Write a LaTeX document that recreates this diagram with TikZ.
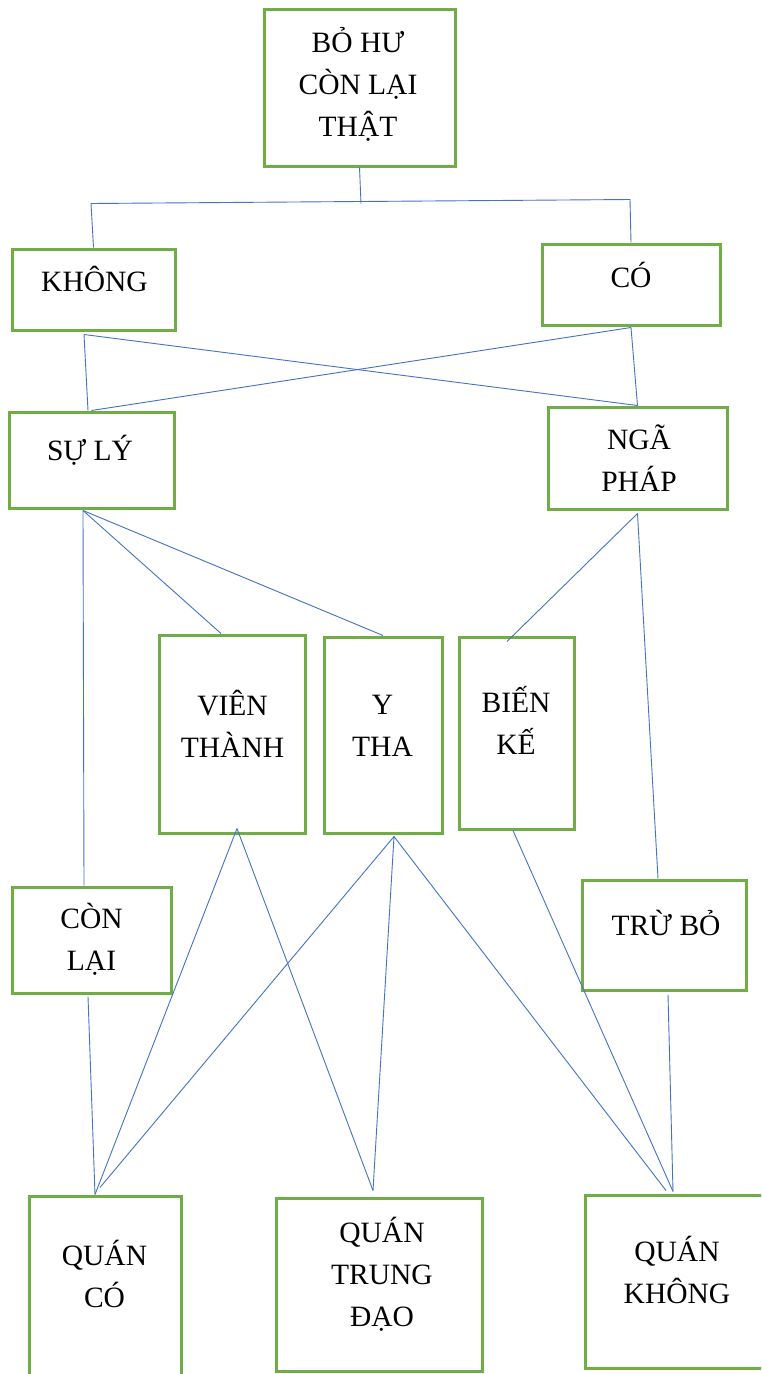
\documentclass[tikz,border=0pt]{standalone}
\usepackage{fontspec}
\setmainfont{Liberation Serif}
\definecolor{boxgreen}{HTML}{70AD47}
\definecolor{linkblue}{HTML}{4472C4}

\begin{document}
\begin{tikzpicture}[x=1pt,y=-1pt,
  frame/.style={draw=boxgreen,line width=3pt,inner sep=0pt},
  word/.style={align=center,inner sep=0pt,font=\fontsize{29.5}{42}\selectfont},
  link/.style={draw=linkblue,line width=0.9pt}]
\useasboundingbox[fill=white] (0,0) rectangle (761,1374);
\clip (0,0) rectangle (761,1374);

\node[frame,minimum width=191pt,minimum height=157pt] (top) at (359.5,87.5) {};
\node[word] (topT) at (358,84) {BỎ HƯ\\CÒN LẠI\\THẬT};

\node[frame,minimum width=163pt,minimum height=81pt] (khong) at (93.5,289.5) {};
\node[word] (khongT) at (94.5,279) {KHÔNG};
\node[frame,minimum width=178pt,minimum height=81pt] (co) at (631,284.5) {};
\node[word] (coT) at (631,275) {CÓ};

\node[frame,minimum width=165pt,minimum height=96pt] (suly) at (91.5,460) {};
\node[word] (sulyT) at (90,450) {SỰ LÝ};
\node[frame,minimum width=179pt,minimum height=102pt] (ngaphap) at (637.5,458) {};
\node[word] (ngaphapT) at (639,458) {NGÃ\\PHÁP};

\node[frame,minimum width=146pt,minimum height=198pt] (vien) at (232,734) {};
\node[word] (vienT) at (232.5,723.5) {VIÊN\\THÀNH};
\node[frame,minimum width=118pt,minimum height=196pt] (ytha) at (383,735) {};
\node[word] (ythaT) at (382.5,726) {Y\\THA};
\node[frame,minimum width=115pt,minimum height=192pt] (bien) at (516.5,733) {};
\node[word] (bienT) at (516,720) {BIẾN\\KẾ};

\node[frame,minimum width=159pt,minimum height=106pt] (conlai) at (91.5,940) {};
\node[word] (conlaiT) at (91.5,939) {CÒN\\LẠI};
\node[frame,minimum width=164pt,minimum height=110pt] (trubo) at (664,935) {};
\node[word] (truboT) at (666,922.5) {TRỪ BỎ};

\node[frame,minimum width=152pt,minimum height=224pt] (quanco) at (105,1308) {};
\node[word] (quancoT) at (104.5,1274) {QUÁN\\CÓ};
\node[frame,minimum width=206pt,minimum height=173pt] (trungdao) at (379,1284.5) {};
\node[word] (trungdaoT) at (382,1274) {QUÁN\\TRUNG\\ĐẠO};
\node[frame,minimum width=210pt,minimum height=173pt] (quankhong) at (690,1281.5) {};
\node[word] (quankhongT) at (677,1269.5) {QUÁN\\KHÔNG};

\draw[link] (top.south) -- ++(1.5,36);
\draw[link] (khong.north) -- ++(-2.5,-44) -- ++(539,-4) -- (co.north);

\draw[link] ([xshift=-9.5pt,yshift=-3pt]khong.south) -- ([xshift=-3.5pt]suly.north);
\draw[link] ([xshift=-9.5pt,yshift=-3pt]khong.south) -- (ngaphap.north);
\draw[link] ([yshift=-1pt]co.south) -- (ngaphap.north);
\draw[link] ([yshift=-1pt]co.south) -- (suly.north);

\draw[link] ([xshift=-8.5pt,yshift=-1pt]suly.south) -- ([xshift=-7.5pt]conlai.north);
\draw[link] ([xshift=-8.5pt,yshift=-1pt]suly.south) -- ([xshift=-11pt]vien.north);
\draw[link] ([xshift=-8.5pt,yshift=-1pt]suly.south) -- (ytha.north);

\draw[link] ([yshift=-3pt]ngaphap.south) -- ([xshift=-9.5pt,yshift=-6pt]bien.north);
\draw[link] ([yshift=-3pt]ngaphap.south) -- ([xshift=-6pt]trubo.north);

\draw[link] ([xshift=5pt,yshift=6pt]vien.south) -- ([xshift=-10pt]quanco.north);
\draw[link] ([xshift=5pt,yshift=6pt]vien.south) -- ([xshift=-6pt,yshift=6pt]trungdao.north);

\draw[link] ([xshift=11pt,yshift=-2pt]ytha.south) -- ([xshift=-5pt,yshift=7pt]quanco.north);
\draw[link] ([xshift=11pt,yshift=-2pt]ytha.south) -- ([xshift=-6pt,yshift=6pt]trungdao.north);
\draw[link] ([xshift=11pt,yshift=-2pt]ytha.south) -- ([xshift=-24pt,yshift=3pt]quankhong.north);

\draw[link] ([xshift=-3.5pt]bien.south) -- ([xshift=-17pt,yshift=2pt]quankhong.north);
\draw[link] ([xshift=-3.5pt,yshift=-2pt]conlai.south) -- ([xshift=-10pt]quanco.north);
\draw[link] ([xshift=4pt,yshift=-3pt]trubo.south) -- ([xshift=-17pt,yshift=2pt]quankhong.north);

\end{tikzpicture}
\end{document}
